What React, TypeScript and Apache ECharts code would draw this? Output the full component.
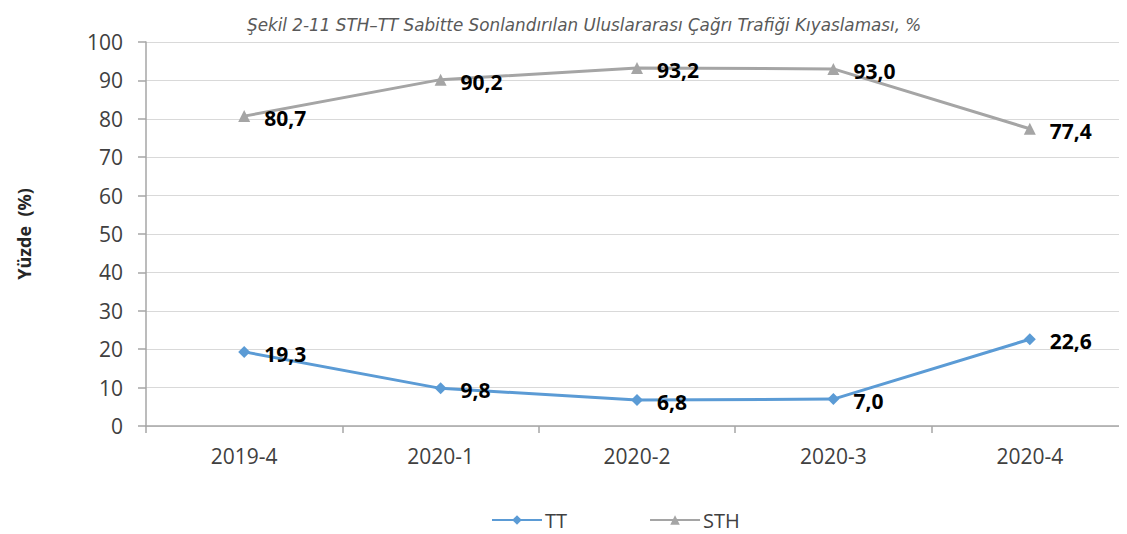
import React, { useEffect, useRef } from "react";
import * as echarts from "echarts";

const categories = ["2019-4", "2020-1", "2020-2", "2020-3", "2020-4"];
const ttValues = [19.3, 9.8, 6.8, 7.0, 22.6];
const sthValues = [80.7, 90.2, 93.2, 93.0, 77.4];
const titleText = "Şekil 2-11 STH–TT Sabitte Sonlandırılan Uluslararası Çağrı Trafiği Kıyaslaması, %";
const yAxisName = "Yüzde  (%)";

const fmt = (v: number) => v.toFixed(1).replace(".", ",");
const FONT = "Open Sans, sans-serif";

export default function App() {
  const ref = useRef<HTMLDivElement>(null);
  useEffect(() => {
    if (!ref.current) return;
    const chart = echarts.init(ref.current, undefined, { renderer: "svg" });
    const labelCfg = {
      show: true,
      position: "right" as const,
      distance: 14,
      offset: [0, 2],
      color: "#000",
      fontWeight: "bold" as const,
      fontSize: 21,
      fontFamily: FONT,
      formatter: (p: any) => fmt(p.value),
    };
    chart.setOption({
      animation: false,
      backgroundColor: "#fff",
      title: {
        text: titleText,
        left: 234,
        top: 3,
        textStyle: {
          fontSize: 16.8,
          fontStyle: "italic",
          fontWeight: "normal",
          color: "#595959",
          fontFamily: "DejaVu Sans, sans-serif",
        },
      },
      legend: {
        top: 497,
        left: 478,
        itemGap: 82,
        itemWidth: 50,
        itemHeight: 12,
        textStyle: { fontSize: 20, color: "#404040", fontFamily: FONT, padding: [0, 0, 0, -2] },
        data: ["TT", "STH"],
      },
      grid: {
        left: 138,
        width: 982,
        top: 34,
        bottom: 108,
        containLabel: false,
        outerBoundsMode: "none",
      },
      xAxis: {
        type: "category",
        data: categories,
        boundaryGap: true,
        axisLine: { lineStyle: { color: "#a6a6a6", width: 1.5 } },
        axisTick: { show: true, length: 7, lineStyle: { color: "#a6a6a6", width: 1.5 } },
        axisLabel: { fontSize: 21, color: "#404040", margin: 19, fontFamily: FONT },
      },
      yAxis: {
        type: "value",
        min: 0,
        max: 100,
        interval: 10,
        name: yAxisName,
        nameLocation: "middle",
        nameGap: 113,
        nameRotate: 90,
        nameTextStyle: { fontSize: 18, fontWeight: "bold", color: "#262626", fontFamily: FONT },
        axisLine: { show: true, lineStyle: { color: "#a6a6a6", width: 1.5 } },
        axisTick: { show: true, length: 8, lineStyle: { color: "#a6a6a6", width: 1.5 } },
        axisLabel: { fontSize: 21, color: "#404040", margin: 23, fontFamily: FONT },
        splitLine: { lineStyle: { color: "#d9d9d9", width: 1 } },
      },
      series: [
        {
          name: "TT",
          type: "line",
          data: ttValues,
          symbol: "diamond",
          symbolSize: 12,
          color: "#5b9bd5",
          lineStyle: { width: 3, color: "#5b9bd5" },
          itemStyle: { color: "#5b9bd5" },
          label: labelCfg,
        },
        {
          name: "STH",
          type: "line",
          data: sthValues,
          symbol: "triangle",
          symbolSize: 12,
          color: "#a5a5a5",
          lineStyle: { width: 3, color: "#a5a5a5" },
          itemStyle: { color: "#a5a5a5" },
          label: labelCfg,
        },
      ],
    });
    return () => chart.dispose();
  }, []);
  return <div ref={ref} style={{ width: 1119, height: 526 }} />;
}
